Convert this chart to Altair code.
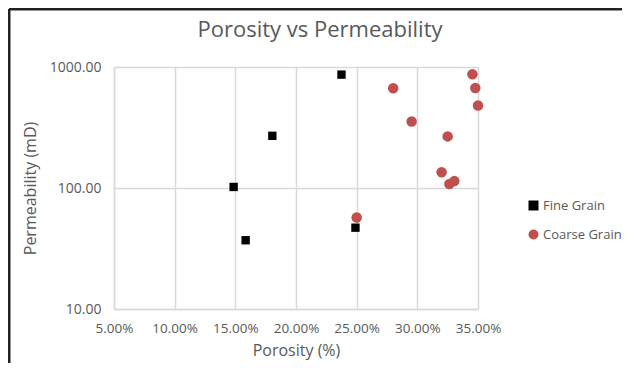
import altair as alt
import pandas as pd

fine_porosity = [0.2375, 0.1805, 0.1486, 0.1585, 0.249]
fine_perm = [865, 270, 102, 37, 47]
coarse_porosity = [0.2801, 0.3454, 0.3478, 0.350, 0.2953, 0.325, 0.320, 0.3264, 0.3305, 0.250]
coarse_perm = [667, 870, 671, 481, 355, 267, 135, 108, 114, 57]

series_names = ["Fine Grain", "Coarse Grain"]
x_ticks = [0.05, 0.10, 0.15, 0.20, 0.25, 0.30, 0.35]
y_ticks = [10, 100, 1000]

df = pd.DataFrame(
    {"porosity": fine_porosity, "perm": fine_perm, "series": series_names[0]}
)
df2 = pd.DataFrame(
    {"porosity": coarse_porosity, "perm": coarse_perm, "series": series_names[1]}
)
data = pd.concat([df, df2], ignore_index=True)

FONT = "Open Sans"
GREY = "#595959"

legend = alt.Legend(title=None, orient="none", legendX=413, legendY=132, padding=0,
                    symbolSize=100, rowPadding=15, labelOffset=3)

points = alt.Chart(data).mark_point(filled=True, opacity=1).encode(
    x=alt.X(
        "porosity:Q",
        scale=alt.Scale(domain=[0.05, 0.35], nice=False, zero=False),
        axis=alt.Axis(
            values=x_ticks, format=".2%", title="Porosity (%)",
            grid=True, ticks=False, labelPadding=12, titlePadding=8,
            labelOverlap=False, labelFlush=False, labelFontSize=13.5,
        ),
    ),
    y=alt.Y(
        "perm:Q",
        scale=alt.Scale(type="log", domain=[10, 1000], nice=False),
        axis=alt.Axis(
            values=y_ticks, format=".2f", title="Permeability (mD)",
            grid=True, ticks=False, labelPadding=13, titlePadding=11,
            labelOverlap=False, labelFlush=False,
        ),
    ),
    shape=alt.Shape(
        "series:N",
        scale=alt.Scale(domain=series_names, range=["square", "circle"]),
        legend=legend,
    ),
    color=alt.Color(
        "series:N",
        scale=alt.Scale(domain=series_names, range=["#000000", "#c0504d"]),
        legend=legend,
    ),
    size=alt.condition(alt.datum.series == "Fine Grain", alt.value(70), alt.value(110)),
)

frame_left = alt.Chart(pd.DataFrame({"a": [0]})).mark_rule(color="#222222", strokeWidth=3).encode(
    x=alt.value(-105), y=alt.value(-58), y2=alt.value(300)
)
frame_top = alt.Chart(pd.DataFrame({"a": [0]})).mark_rule(color="#222222", strokeWidth=3).encode(
    x=alt.value(-105), x2=alt.value(508), y=alt.value(-58)
)

chart = alt.layer(points, frame_left, frame_top).properties(
    width=364,
    height=242,
    autosize=alt.AutoSizeParams(type="none"),
    padding={"left": 106, "top": 59, "right": 144, "bottom": 54},
    title=alt.TitleParams(
        "Porosity vs Permeability", fontSize=22, font=FONT, fontWeight="normal",
        color=GREY, anchor="middle", dx=24, dy=48, offset=14,
    ),
).configure_view(stroke=None).configure_axis(
    labelFont=FONT, titleFont=FONT, labelFontSize=14, titleFontSize=16,
    labelColor=GREY, titleColor=GREY, titleFontWeight="normal",
    gridColor="#d9d9d9", gridWidth=1.5, domainColor="#d9d9d9", domainWidth=1.5,
).configure_legend(
    labelFont=FONT, labelFontSize=13, labelColor=GREY,
)

chart.save("out.html", embed_options={"renderer": "svg", "actions": False})
